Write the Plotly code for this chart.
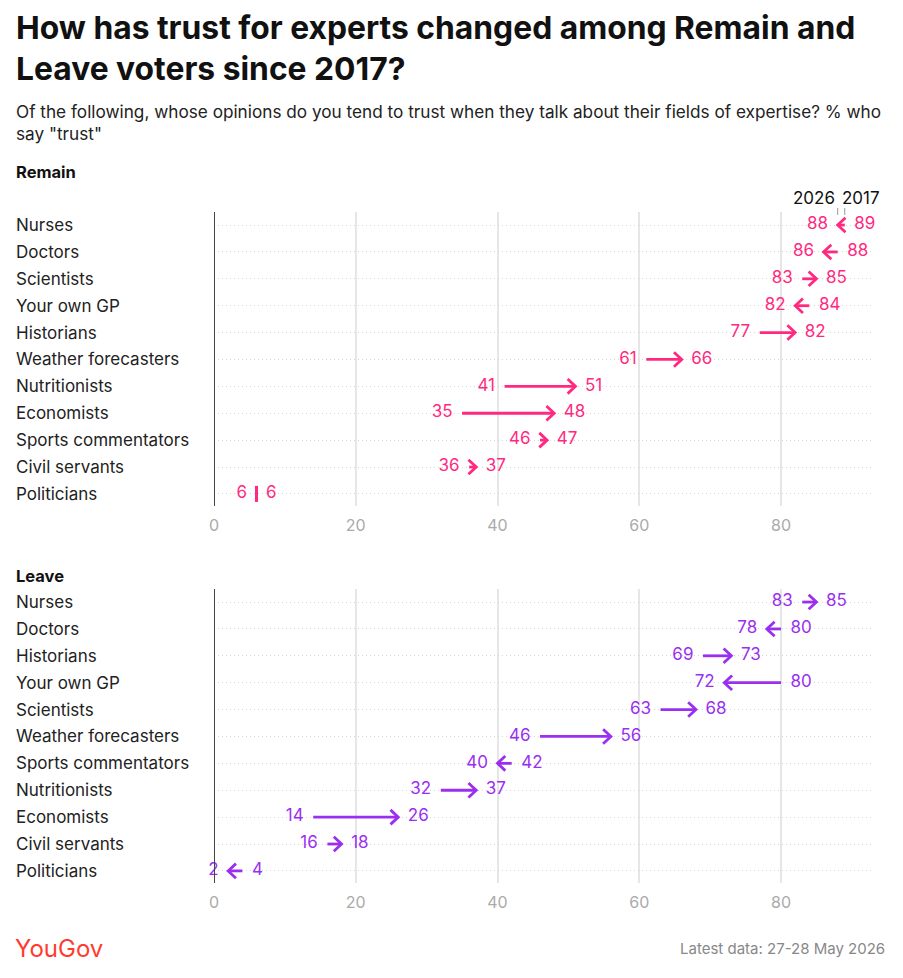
import plotly.graph_objects as go

remain_cats = ["Nurses", "Doctors", "Scientists", "Your own GP", "Historians", "Weather forecasters",
               "Nutritionists", "Economists", "Sports commentators", "Civil servants", "Politicians"]
remain_2017 = [89, 88, 83, 84, 77, 61, 41, 35, 46, 36, 6]
remain_2026 = [88, 86, 85, 82, 82, 66, 51, 48, 47, 37, 6]

leave_cats = ["Nurses", "Doctors", "Historians", "Your own GP", "Scientists", "Weather forecasters",
              "Sports commentators", "Nutritionists", "Economists", "Civil servants", "Politicians"]
leave_2017 = [83, 80, 69, 80, 63, 46, 42, 32, 14, 16, 4]
leave_2026 = [85, 78, 73, 72, 68, 56, 40, 37, 26, 18, 2]

PINK = "#FF2A80"
PURPLE = "#9B2FEF"
FONT = "Inter"
W, H = 903, 978
OFF = 8  # page body margin
L = 214 - OFF
R = W - (871 - OFF)
PW = W - L - R
CHEV_DX = 1.1   # chevron depth, axis units
CHEV_DY = 0.27  # chevron half-height, row units

fig = go.Figure()
annotations = []
shapes = []

def py(px):
    return 1 - (px - OFF) / H

def pxx(px):
    return (px - OFF - L) / PW

panels = [
    (remain_cats, remain_2017, remain_2026, PINK, "x", "y", (212, 506), "Remain", 172),
    (leave_cats, leave_2017, leave_2026, PURPLE, "x2", "y2", (589, 883), "Leave", 576),
]

layout_axes = {}
for k, (cats, v17, v26, col, xr, yr, (top, bot), name, head_y) in enumerate(panels):
    idx = list(range(len(cats)))
    lo = [min(a, b) for a, b in zip(v17, v26)]
    hi = [max(a, b) for a, b in zip(v17, v26)]
    lo_txt = [str(v26[i]) if v26[i] <= v17[i] else str(v17[i]) for i in idx]
    hi_txt = [str(v17[i]) if v26[i] <= v17[i] else str(v26[i]) for i in idx]
    fig.add_trace(go.Scatter(x=lo, y=idx, mode="text", text=[t + "  " for t in lo_txt],
                             textposition="middle left", textfont=dict(color=col, size=17, family=FONT),
                             xaxis=xr, yaxis=yr, cliponaxis=False, showlegend=False, hoverinfo="skip"))
    fig.add_trace(go.Scatter(x=hi, y=idx, mode="text", text=["  " + t for t in hi_txt],
                             textposition="middle right", textfont=dict(color=col, size=17, family=FONT),
                             xaxis=xr, yaxis=yr, cliponaxis=False, showlegend=False, hoverinfo="skip"))
    for i in idx:
        a, b = v17[i], v26[i]
        if a == b:
            shapes.append(dict(type="line", xref=xr, yref=yr, x0=a, x1=a,
                               y0=i - 0.3, y1=i + 0.3, line=dict(color=col, width=3)))
        else:
            s = 1 if b > a else -1
            fig.add_trace(go.Scatter(x=[a, b, None, b - s * CHEV_DX, b, b - s * CHEV_DX],
                                     y=[i, i, None, i - CHEV_DY, i, i + CHEV_DY], mode="lines",
                                     line=dict(color=col, width=2.8), xaxis=xr, yaxis=yr,
                                     cliponaxis=False, showlegend=False, hoverinfo="skip"))
        annotations.append(dict(x=pxx(14), y=i, xref="paper", yref=yr, text=cats[i], showarrow=False,
                                xanchor="left", font=dict(size=17, color="#222", family=FONT)))
    annotations.append(dict(x=pxx(14), y=py(head_y), xref="paper", yref="paper", text="<b>" + name + "</b>",
                            showarrow=False, xanchor="left", yanchor="middle",
                            font=dict(size=16.5, color="#111", family=FONT)))
    sfx = "" if k == 0 else "2"
    layout_axes["xaxis" + sfx] = dict(range=[0, 92.7], domain=[0, 1], tickvals=[0, 20, 40, 60, 80],
                                      showgrid=True, gridcolor="#e6e6e6", gridwidth=1.5,
                                      zeroline=False, tickfont=dict(size=16, color="#aaa", family=FONT),
                                      ticklabelstandoff=8,
                                      anchor="y" + sfx, ticks="", fixedrange=True)
    layout_axes["yaxis" + sfx] = dict(range=[10.45, -0.485], domain=[py(bot), py(top)],
                                      tickvals=idx, showticklabels=False, showgrid=True,
                                      gridcolor="#d6d6d6", griddash="1px,3px", gridwidth=1, zeroline=False,
                                      anchor="x" + sfx, fixedrange=True)
    shapes.append(dict(type="line", xref=xr, yref="paper", x0=0, x1=0, y0=py(bot), y1=py(top),
                       line=dict(color="#444", width=2)))

# header for year labels above Nurses
annotations.append(dict(x=88, y=py(198), xref="x", yref="paper", text="2026", showarrow=False, xshift=-1,
                        xanchor="right", yanchor="middle", font=dict(size=17, color="#111", family=FONT)))
annotations.append(dict(x=89, y=py(198), xref="x", yref="paper", text="2017", showarrow=False, xshift=-5,
                        xanchor="left", yanchor="middle", font=dict(size=17, color="#111", family=FONT)))
for xv in (88, 89):
    shapes.append(dict(type="line", xref="x", yref="paper", x0=xv, x1=xv, y0=py(208), y1=py(215),
                       line=dict(color="#999", width=1)))

annotations += [
    dict(x=pxx(14), y=py(48), xref="paper", yref="paper", xanchor="left", yanchor="middle", align="left",
         text="<b>How has trust for experts changed among Remain and<br>Leave voters since 2017?</b>",
         showarrow=False, font=dict(size=31.8, color="#111", family=FONT)),
    dict(x=pxx(14), y=py(122), xref="paper", yref="paper", xanchor="left", yanchor="middle", align="left",
         text="Of the following, whose opinions do you tend to trust when they talk about their fields of expertise? % who<br>say \"trust\"",
         showarrow=False, font=dict(size=17.2, color="#222", family=FONT)),
    dict(x=pxx(13), y=py(948), xref="paper", yref="paper", xanchor="left", yanchor="middle",
         text="YouGov", showarrow=False, font=dict(size=24, color="#FF3B2F", family=FONT)),
    dict(x=pxx(W - 16), y=py(948), xref="paper", yref="paper", xanchor="right", yanchor="middle",
         text="Latest data: 27-28 May 2026", showarrow=False, font=dict(size=15, color="#888", family=FONT)),
]

fig.update_layout(width=W, height=H, margin=dict(l=L, r=R, t=0, b=0), plot_bgcolor="white",
                  paper_bgcolor="white", annotations=annotations, shapes=shapes, showlegend=False,
                  font=dict(family=FONT), **layout_axes)
fig.write_html("out.html")
